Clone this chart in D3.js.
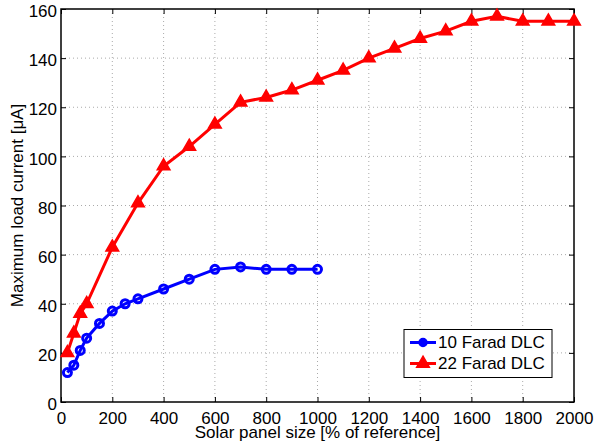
<!DOCTYPE html>
<html><head><meta charset="utf-8">
<script src="https://cdn.jsdelivr.net/npm/d3@7"></script>
<style>body{margin:0;background:#fff}svg{display:block}text{font-family:"Liberation Sans",Arial,sans-serif;fill:#000}</style>
</head><body><div id="c"></div>
<script>
const xTicks = [0,200,400,600,800,1000,1200,1400,1600,1800,2000];
const yTicks = [0,20,40,60,80,100,120,140,160];
const x10 = [25,50,75,100,150,200,250,300,400,500,600,700,800,900,1000];
const y10 = [12,15,21,26,32,37,40,42,46,50,54,55,54,54,54];
const x22 = [25,50,75,100,200,300,400,500,600,700,800,900,1000,1100,1200,1300,1400,1500,1600,1700,1800,1900,2000];
const y22 = [20,28,36,40,63,81,96,104,113,122,124,127,131,135,140,144,148,151,155,157,155,155,155];
const seriesNames = ["10 Farad DLC","22 Farad DLC"];
const xLabel = "Solar panel size [% of reference]";
const yLabel = "Maximum load current [\u03bcA]";

const W=595,H=446, L=61,R=574,T=9,B=402;
const svg=d3.select("#c").append("svg").attr("width",W).attr("height",H);
const x=d3.scaleLinear().domain([0,2000]).range([L,R]);
const y=d3.scaleLinear().domain([0,160]).range([B,T]);

// grid
const g=svg.append("g");
g.selectAll(".gx").data(xTicks.slice(1,-1)).enter().append("line")
 .attr("x1",d=>x(d)).attr("x2",d=>x(d)).attr("y1",T).attr("y2",B)
 .attr("stroke","#aaa").attr("stroke-width",1).attr("stroke-dasharray","1,3");
g.selectAll(".gy").data(yTicks.slice(1,-1)).enter().append("line")
 .attr("y1",d=>y(d)).attr("y2",d=>y(d)).attr("x1",L).attr("x2",R)
 .attr("stroke","#aaa").attr("stroke-width",1).attr("stroke-dasharray","1,3");

// axes
const fs="17px";
const ax=svg.append("g").attr("transform",`translate(0,${B})`)
 .call(d3.axisBottom(x).tickValues(xTicks).tickSize(-5).tickPadding(10).tickFormat(d3.format("d")));
const ay=svg.append("g").attr("transform",`translate(${L},0)`)
 .call(d3.axisLeft(y).tickValues(yTicks).tickSize(-5).tickPadding(4).tickFormat(d3.format("d")));
const at=svg.append("g").attr("transform",`translate(0,${T})`)
 .call(d3.axisTop(x).tickValues(xTicks).tickSize(-5).tickFormat(""));
const ar=svg.append("g").attr("transform",`translate(${R},0)`)
 .call(d3.axisRight(y).tickValues(yTicks).tickSize(-5).tickFormat(""));
[ax,ay,at,ar].forEach(a=>{a.select(".domain").remove();a.selectAll("line").attr("stroke","#000");
 a.selectAll("text").style("font-size",fs).style("font-family","Liberation Sans, Arial, sans-serif").attr("fill","#000");});
ay.selectAll("text").attr("dy","0.45em");
svg.append("rect").attr("x",L).attr("y",T).attr("width",R-L).attr("height",B-T)
 .attr("fill","none").attr("stroke","#000").attr("stroke-width",1.5);

// labels
svg.append("text").attr("x",(L+R)/2).attr("y",438).attr("text-anchor","middle").style("font-size",fs).text(xLabel);
svg.append("text").attr("transform",`translate(23,${(T+B)/2}) rotate(-90)`).attr("text-anchor","middle").style("font-size",fs).text(yLabel);

// lines
const line=d3.line().x(d=>x(d[0])).y(d=>y(d[1]));
const d10=x10.map((v,i)=>[v,y10[i]]), d22=x22.map((v,i)=>[v,y22[i]]);
const tri=d3.symbol().type(d3.symbolTriangle).size(70);
svg.append("path").attr("d",line(d22)).attr("fill","none").attr("stroke","#f00").attr("stroke-width",3);
svg.selectAll(".t").data(d22).enter().append("path").attr("d",tri)
 .attr("transform",d=>`translate(${x(d[0])},${y(d[1])})`).attr("fill","#f00").attr("stroke","#f00").attr("stroke-width",1.5);
svg.append("path").attr("d",line(d10)).attr("fill","none").attr("stroke","#00f").attr("stroke-width",3);
svg.selectAll(".c").data(d10).enter().append("circle").attr("cx",d=>x(d[0])).attr("cy",d=>y(d[1]))
 .attr("r",4).attr("fill","none").attr("stroke","#00f").attr("stroke-width",3);

// legend
const lg=svg.append("g");
lg.append("rect").attr("x",404).attr("y",329.5).attr("width",148).attr("height",48).attr("fill","#fff").attr("stroke","#000").attr("stroke-width",1);
const rows=[{n:seriesNames[0],c:"#00f",m:"c",yy:342.5},{n:seriesNames[1],c:"#f00",m:"t",yy:363.5}];
rows.forEach(r=>{
 lg.append("line").attr("x1",410).attr("x2",436).attr("y1",r.yy).attr("y2",r.yy).attr("stroke",r.c).attr("stroke-width",3);
 if(r.m==="c") lg.append("circle").attr("cx",423).attr("cy",r.yy).attr("r",4).attr("fill",r.c).attr("stroke",r.c).attr("stroke-width",1.5);
 else lg.append("path").attr("d",tri).attr("transform",`translate(423,${r.yy})`).attr("fill",r.c).attr("stroke",r.c).attr("stroke-width",1.5);
 lg.append("text").attr("x",438).attr("y",r.yy).attr("dy","0.35em").style("font-size","17px").text(r.n);
});
</script></body></html>
